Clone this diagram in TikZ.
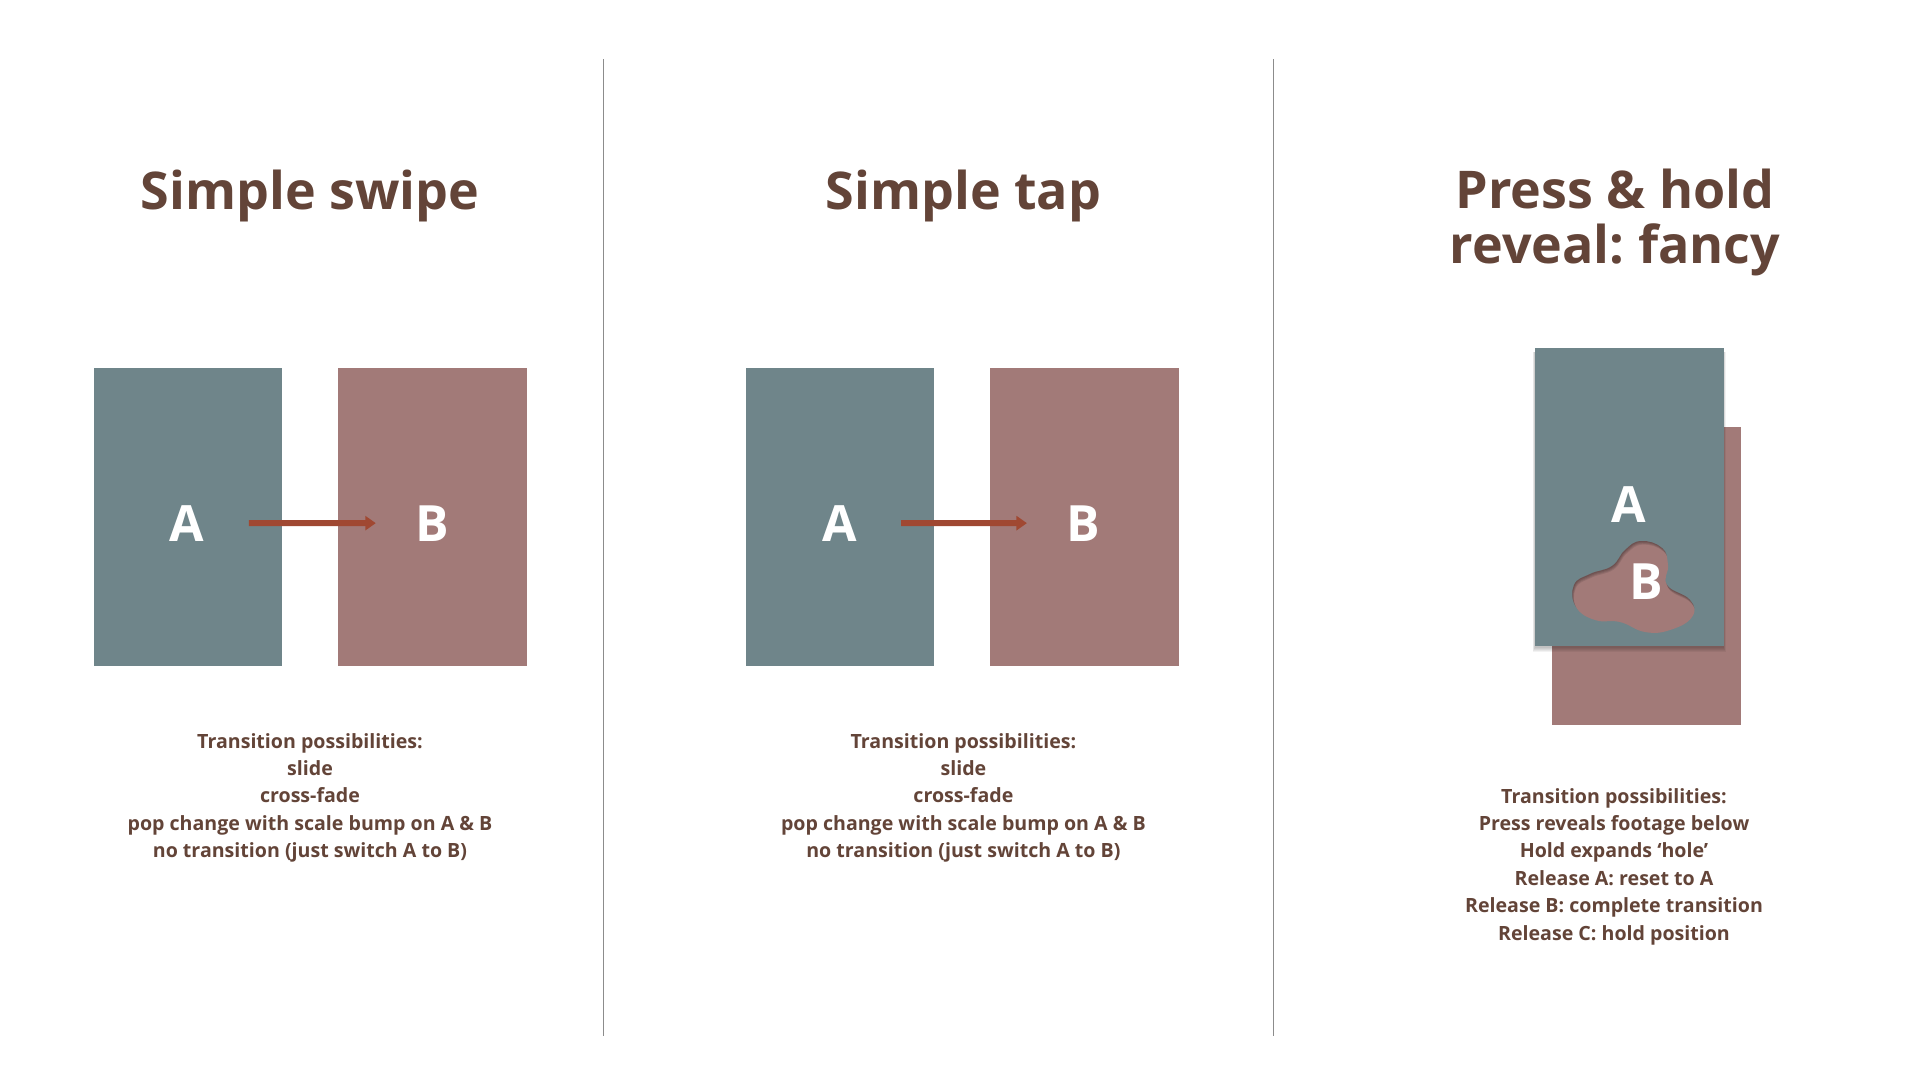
\documentclass[tikz,border=0pt]{standalone}
\usepackage{fontspec}
\setmainfont{Open Sans}
\usetikzlibrary{arrows.meta}
\frenchspacing

\definecolor{ink}{HTML}{634438}
\definecolor{slate}{HTML}{6F858A}
\definecolor{rosy}{HTML}{A27A78}
\definecolor{rust}{HTML}{A04832}
\definecolor{rulegrey}{HTML}{8C8C8C}

\tikzset{
    heading/.style={text=ink, font=\fontsize{52}{55}\selectfont\bfseries, align=center, anchor=base, inner sep=0pt},
    notes/.style={text=ink, font=\fontsize{19.6}{27.4}\selectfont\bfseries, align=center, anchor=base, inner sep=0pt},
    screenA/.style={fill=slate, minimum width=188.5pt, minimum height=298pt, inner sep=0pt, anchor=north west},
    screenB/.style={fill=rosy, minimum width=188.5pt, minimum height=298pt, inner sep=0pt, anchor=north west},
    letter/.style={text=white, font=\fontsize{50}{50}\selectfont\bfseries, anchor=base, inner sep=0pt},
    swipe/.style={draw=rust, line width=6pt, -{Triangle[length=10.5pt,width=14pt]}, shorten <=61.8pt, shorten >=56pt},
    divider/.style={draw=rulegrey, line width=1.3pt},
}

% the hole in screen A
\def\holepath{plot[smooth cycle, tension=.75] coordinates {(1641,541) (1662,548) (1668,565) (1667,585) (1690,600) (1692,617) (1670,630) (1645,632) (1620,622) (1595,620) (1576,607) (1574,585) (1590,574) (1612,566) (1625,550)}}

\begin{document}
\begin{tikzpicture}[x=1pt, y=-1pt]
    \useasboundingbox[fill=white] (0,0) rectangle (1921,1080);

    % dividers
    \coordinate (d1t) at (603.3,59);
    \coordinate (d1b) at (603.3,1036);
    \coordinate (d2t) at (1273.3,59);
    \coordinate (d2b) at (1273.3,1036);
    \draw[divider] (d1t) -- (d1b);
    \draw[divider] (d2t) -- (d2b);

    % simple swipe (multi-line nodes sit on their last baseline)
    \node[heading] (swipetitle) at (310,209.6) {Simple swipe};
    \node[screenA] (swipeA) at (93.6,367.5) {};
    \node[screenB] (swipeB) at (337.9,367.5) {};
    \node[letter] (swipeLA) at (187.1,541) {A};
    \node[letter] (swipeLB) at (431.8,541) {B};
    \draw[swipe] (swipeLA.center) -- (swipeLB.center);
    \node[notes] (swipenotes) at (310,857.6) {Transition possibilities:\\slide\\cross-fade\\pop change with scale bump on A \& B\\no transition (just switch A to B)};

    % simple tap
    \node[heading] (taptitle) at (963.4,209.6) {Simple tap};
    \node[screenA] (tapA) at (745.4,367.5) {};
    \node[screenB] (tapB) at (990,367.5) {};
    \node[letter] (tapLA) at (839.3,541) {A};
    \node[letter] (tapLB) at (1082.9,541) {B};
    \draw[swipe] (tapLA.center) -- (tapLB.center);
    \node[notes] (tapnotes) at (963.4,857.6) {Transition possibilities:\\slide\\cross-fade\\pop change with scale bump on A \& B\\no transition (just switch A to B)};

    % press & hold
    \node[heading] (holdtitle) at (1615,263.3) {Press \& hold\\reveal: fancy};
    \node[screenB] (holdB) at (1552,427) {};
    \foreach \d in {1,...,5}
        \fill[black, opacity=.05] (1535-.5*\d,352) rectangle (1723+.5*\d,646+\d+1);
    \node[screenA] (holdA) at (1535,348) {};
    \fill[rosy] \holepath;
    \begin{scope}
        \clip \holepath;
        \foreach \d in {1,...,4}{
            \begin{scope}[shift={(.4*\d,.9*\d)}]
                \fill[black, opacity=.09, even odd rule] (1500,480) rectangle (1760,700) \holepath;
            \end{scope}
        }
    \end{scope}
    \node[letter] (holdLA) at (1629,522) {A};
    \node[letter] (holdLB) at (1646,599) {B};
    \node[notes] (holdnotes) at (1614,940) {Transition possibilities:\\Press reveals footage below\\Hold expands ‘hole’\\Release A: reset to A\\Release B: complete transition\\Release C: hold position};
\end{tikzpicture}
\end{document}
